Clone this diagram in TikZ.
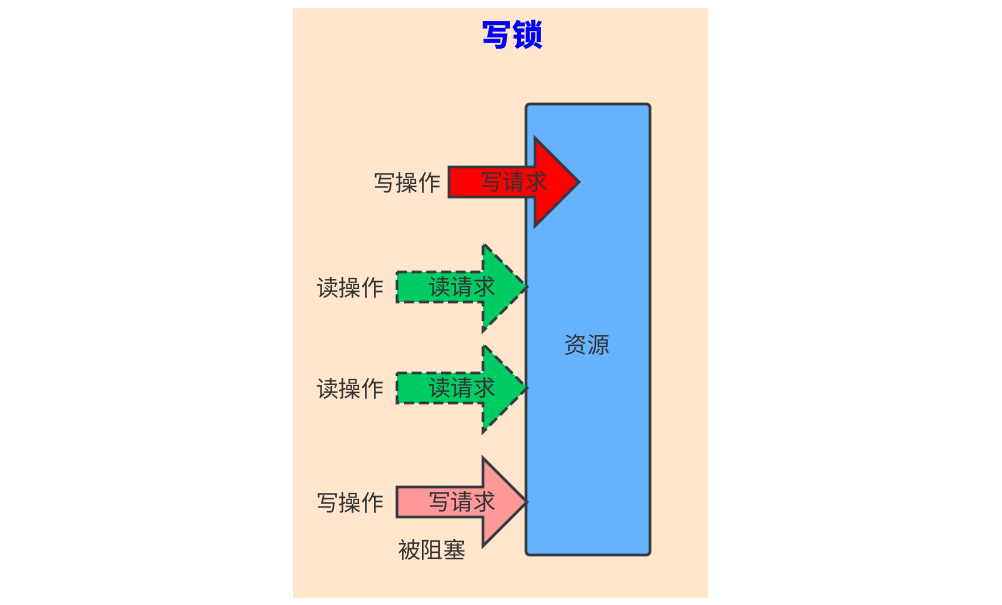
\documentclass[tikz,border=0pt]{standalone}
\usepackage{fontspec}
\setmainfont{Noto Sans CJK SC}
\usepackage{tikz}
\usetikzlibrary{positioning,calc}

\definecolor{peach}{HTML}{FFE6CC}
\definecolor{resblue}{HTML}{66B2FF}
\definecolor{readgreen}{HTML}{00CC66}
\definecolor{blockedpink}{HTML}{FF9999}
\definecolor{edgegray}{HTML}{36393D}
\definecolor{textgray}{HTML}{333333}

% block arrow: style, tail x, centre y, name, text
\newcommand{\reqarrow}[5]{%
  \draw[#1] (#2,#3-15) -- ++(86,0) -- ++(0,-29) -- ++(44,44) -- ++(-44,44) -- ++(0,-29) -- ++(-86,0) -- cycle;
  \node[reqtext] (#4) at (#2+65,#3) {#5};
}

\begin{document}
\begin{tikzpicture}[x=0.75pt, y=-0.75pt,
    resource/.style={draw=edgegray, fill=resblue, line width=2pt, rounded corners=2.5pt},
    writereq/.style={draw=edgegray, fill=red, line width=2pt},
    readreq/.style={draw=edgegray, fill=readgreen, line width=2pt, dash pattern=on 7.5pt off 3.5pt},
    blockedreq/.style={draw=edgegray, fill=blockedpink, line width=2pt},
    reqtext/.style={text=textgray, font=\fontsize{17}{20}\selectfont, inner sep=0pt},
    oplabel/.style={text=textgray, font=\fontsize{17}{20}\selectfont, inner sep=0pt},
    title/.style={text=blue, font=\fontsize{23}{27}\selectfont\bfseries, inner sep=0pt}]

    \useasboundingbox[fill=white] (0,0) rectangle (1002,605);
    \fill[peach] (293,8) rectangle (708,598);

    % Title
    \node[title] (title) at (512,35) {写锁};

    % Resource
    \draw[resource] (526,104) rectangle (650,555);
    \node[oplabel] (res) at (587,345) {资源};

    % Requests
    \reqarrow{writereq}{449}{182}{w1}{写请求}
    \reqarrow{readreq}{397}{287}{r1}{读请求}
    \reqarrow{readreq}{397}{388}{r2}{读请求}
    \reqarrow{blockedreq}{397}{502}{w2}{写请求}

    % Operations
    \node[oplabel] (op1) at (407,183) {写操作};
    \node[oplabel] (op2) at (350,288) {读操作};
    \node[oplabel] (op3) at (350,389) {读操作};
    \node[oplabel] (op4) at (350,503) {写操作};
    \node[oplabel] (blocked) at (432,550) {被阻塞};

\end{tikzpicture}
\end{document}
